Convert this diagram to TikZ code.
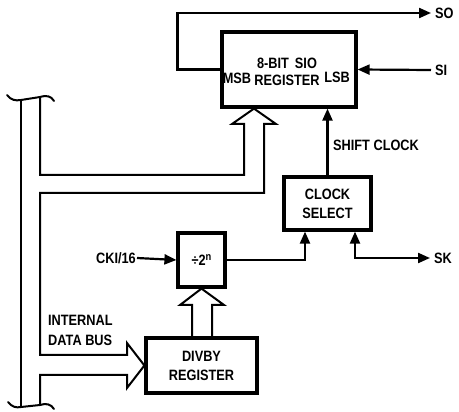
\documentclass[tikz,border=0pt]{standalone}
\usepackage{fontspec}
\setmainfont{Liberation Sans}[FakeStretch=0.85]
\usetikzlibrary{arrows.meta, positioning}

\begin{document}
\begin{tikzpicture}[x=1pt, y=-1pt,
    blk/.style={rectangle, draw, line width=3.2pt, inner sep=0pt, font=\bfseries\fontsize{15}{19}\selectfont, align=center},
    lbl/.style={inner sep=1pt, font=\bfseries\fontsize{15}{19}\selectfont, align=center},
    arr/.style={line width=2.2pt, -{Triangle[length=12pt,width=10pt]}},
    arrboth/.style={line width=2.2pt, {Triangle[length=12pt,width=10pt]}-{Triangle[length=12pt,width=10pt]}},
    bus/.style={line width=2pt, line join=miter}
]
    \useasboundingbox (0,0) rectangle (459,412);

    % blocks
    \node[blk, minimum width=134pt, minimum height=75pt] (sio) at (289,69.5) {};
    \node[lbl] (msb) at (237,78) {MSB};
    \node[lbl, font=\bfseries\fontsize{15}{17}\selectfont] (sioname) at (287,71.5) {8-BIT\, SIO\\REGISTER};
    \node[lbl] (lsb) at (337,77) {LSB};
    \node[blk, minimum width=87pt, minimum height=53pt] (clk) at (327.5,203.5) {CLOCK\\SELECT};
    \node[blk, minimum width=47pt, minimum height=54pt] (div) at (201.5,260) {÷2\raisebox{5pt}{\fontsize{11}{10}\selectfont n}};
    \node[blk, minimum width=111pt, minimum height=55pt] (divby) at (201.5,365.5) {DIVBY\\REGISTER};

    % labels
    \node[lbl, anchor=west, inner sep=4pt] (so) at (431,13) {SO};
    \node[lbl, anchor=west, inner sep=4pt] (si) at (431,70) {SI};
    \node[lbl, anchor=west, inner sep=4pt] (sk) at (430,258) {SK};
    \node[lbl, anchor=east] (cki) at (137,258) {CKI/16};
    \node[lbl, anchor=west] (shift) at (332,145) {SHIFT CLOCK};
    \node[lbl, anchor=west, align=left, font=\bfseries\fontsize{15}{20}\selectfont] (idb) at (47,330) {INTERNAL\\DATA BUS};

    % serial lines
    \draw[arr] (sio.west) -- ++(-43,0) |- (so.west);
    \draw[arr] (si.west) -- (sio.east);
    \draw[arr] (clk.north) -- (clk.north |- sio.south);
    \draw[arr] (cki.east) -- (div.west);
    \draw[arr] (div.east) -| ([xshift=-22.5pt]clk.south);
    \draw[arrboth] ([xshift=27.5pt]clk.south) |- (sk.west);

    % internal data bus
    \coordinate (siotip) at ([xshift=-35pt]sio.south);
    \coordinate (divbytip) at (divby.west);
    \coordinate (divtip) at (div.south);
    \draw[bus] (40,98) -- (40,175) -- (244,175) -- (244,124) -- (232,124) -- (siotip)
        -- (276,124) -- (264,124) -- (264,193) -- (40,193) -- (40,355) -- (127,355)
        -- (127,343) -- (divbytip) -- (127,388) -- (127,375) -- (40,375) -- (40,405);
    \draw[bus] (21,99) -- (21,407);
    \draw[bus] (192,338) -- (192,305) -- (180,305) -- (divtip) -- (224,305) -- (212,305) -- (212,338);
    \draw[bus, line cap=round] (7,95) .. controls (11,100) and (15,101) .. (21,100) -- (40,97)
        .. controls (47,95) and (51,96) .. (54,101);
    \draw[bus, line cap=round] (8,402) .. controls (12,407) and (16,408) .. (21,407) -- (40,405)
        .. controls (46,403) and (51,404) .. (54,409);
\end{tikzpicture}
\end{document}
